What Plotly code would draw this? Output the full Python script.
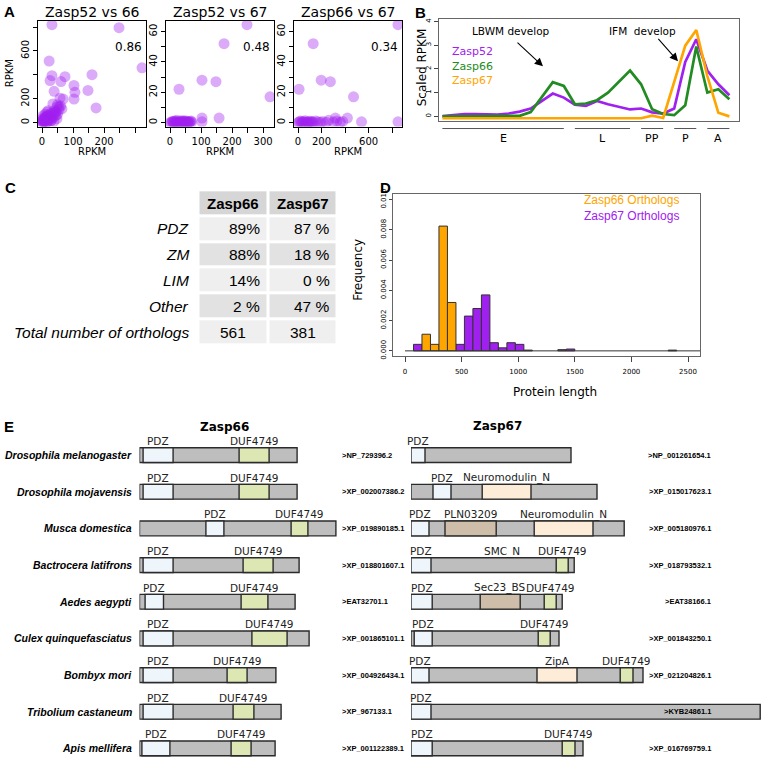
import plotly.graph_objects as go

W, H = 762, 761
def fx(p): return p / W
def fy(p): return 1 - p / H

DV = "DejaVu Sans"
LS = "Liberation Sans"
PURPLE = "#A020F0"
GREEN = "#228B22"
ORANGE = "#FFA500"

# ---------------- Panel A data (RPKM scatter) ----------------
a_titles = ["Zasp52 vs 66", "Zasp52 vs 67", "Zasp66 vs 67"]
a_corr = ["0.86", "0.48", "0.34"]
a1_x = [32, 248, 322, 23, 32, 26, 74, 61, 39, 103, 106, 103, 161, 148, 174, 58, 68, 35, 48, 64,
        16, 3, 26, 48, 0, 5, 10, 15, 20, 30, 40, 45, 50, 55, 12, 8, 2, 25, 35, 60, 30, 18, 6, 14, 22, 42,
        5, 10, 15, 20, 25, 30, 35, 40, 45, 50, 55, 20, 10, 0, 3, 7, 12, 18, 28, 38]
a1_y = [820, 795, 459, 516, 393, 352, 385, 344, 262, 311, 254, 197, 402, 270, 123, 205, 197, 156, 131, 115,
        90, 57, 49, 33, 10, 5, 20, 30, 60, 80, 100, 60, 150, 110, 40, 15, 2, 70, 40, 140, 20, 10, 25, 50, 35, 85,
        30, 45, 55, 35, 25, 50, 75, 60, 90, 70, 130, 100, 70, 30, 20, 8, 0, 5, 15, 10]
a2_x = [248, 174, 103, 148, 29, 158, 103, 103, 322, 0, 5, 10, 15, 20, 25, 30, 35, 40, 45, 50, 55, 60, 65, 70,
        12, 22, 32, 42, 52, 62, 8, 18, 28, 38, 48, 58, 68]
a2_y = [64.5, 52, 28, 27, 22, 3, 3, 0.5, 17, 0, 0.3, 0.5, 1, 0.2, 0.8, 0.4, 1.2, 0.3, 0.6, 0.2, 0.9, 0.4, 0.7, 0.3,
        0.1, 1.5, 0.1, 1.0, 0.5, 0.1, 0.9, 0.6, 0.2, 0.7, 1.3, 0.2, 1.1]
a3_x = [129, 197, 275, 9, 472, 318, 420, 540, 850, 850, 0, 10, 20, 30, 40, 50, 60, 70, 80, 90, 100, 110, 120, 130,
        150, 170, 190, 210, 240, 260, 300, 330, 360, 380]
a3_y = [52, 28, 27, 22, 17, 3, 3, 0.5, 64.5, 0.5, 0, 0.5, 1, 0.2, 0.8, 0.4, 1.2, 0.3, 0.6, 0.2, 0.9, 0.4, 0.7, 0.3,
        1.0, 0.5, 0.2, 0.8, 0.3, 1.5, 0.4, 1.1, 0.2, 0.8]
a1_xticks = [0, 50, 100, 150, 200, 250, 300]
a1_xlabels = ["0", "", "100", "", "200", "", ""]
a2_xticks = [0, 50, 100, 150, 200, 250, 300]
a2_xlabels = ["0", "", "100", "", "200", "", "300"]
a3_xticks = [0, 200, 400, 600, 800]
a3_xlabels = ["0", "200", "", "600", ""]
a1_yticks = [0, 200, 400, 600, 800]
a1_ylabels = ["0", "200", "", "600", ""]
a23_yticks = [0, 10, 20, 30, 40, 50, 60]
a23_ylabels = ["0", "", "20", "", "40", "", "60"]

# ---------------- Panel B data (developmental time course) ----------------
stages = list(range(1, 28))
zasp52 = [0.01, 0.05, 0.09, 0.09, 0.07, 0.07, 0.12, 0.2, 0.33, 0.65, 0.96, 0.79, 0.49, 0.44, 0.65, 0.51, 0.4,
          0.29, 0.33, 0.17, 0.12, 0.33, 2.29, 3.25, 1.93, 1.35, 0.89]
zasp66 = [0, 0, 0, 0, 0, 0, 0.01, 0.02, 0.18, 0.8, 1.44, 1.28, 0.51, 0.54, 0.68, 1.0, 1.46, 1.93, 1.35, 0.3,
          0.1, 0.05, 0.47, 2.94, 1.0, 1.14, 0.72]
zasp67 = [-0.08] * 19 + [0.03, -0.07, 1.45, 2.98, 3.64, 1.7, 0.15, 0.0]
stage_groups = ["E", "L", "PP", "P", "A"]
group_start = [1, 13, 19, 22, 25]
group_end = [12, 18, 21, 24, 27]

# ---------------- Panel C data (table) ----------------
table_header = ["Zasp66", "Zasp67"]
table_rows = ["PDZ", "ZM", "LIM", "Other", "Total number of orthologs"]
table_zasp66 = ["89%", "88%", "14%", "2 %", "561"]
table_zasp67 = ["87 %", "18 %", "0 %", "47 %", "381"]

# ---------------- Panel D data (protein length histogram) ----------------
bin_width = 75
z66_bin_left = [150, 225, 300, 375]
z66_density = [0.0011, 0.00043, 0.00825, 0.0032]
z67_bin_left = [75, 450, 525, 600, 675, 750, 825, 900, 975, 1050, 1350, 1425, 2325]
z67_density = [0.00043, 0.00043, 0.0023, 0.0028, 0.0037, 0.00054, 0.0002, 0.00054, 0.00043,
               0.00005, 0.00008, 0.00012, 0.00005]
length_max = 2625

# ---------------- Panel E data (domain architecture, aa) ----------------
species = ["Drosophila melanogaster", "Drosophila mojavensis", "Musca domestica", "Bactrocera latifrons",
           "Aedes aegypti", "Culex quinquefasciatus", "Bombyx mori", "Tribolium castaneum", "Apis mellifera"]
z66_acc = [">NP_729396.2", ">XP_002007386.2", ">XP_019890185.1", ">XP_018801607.1", ">EAT32701.1",
           ">XP_001865101.1", ">XP_004926434.1", ">XP_967133.1", ">XP_001122389.1"]
z67_acc = [">NP_001261654.1", ">XP_015017623.1", ">XP_005180976.1", ">XP_018793532.1", ">EAT38166.1",
           ">XP_001843250.1", ">XP_021204826.1", ">KYB24861.1", ">XP_016769759.1"]
z66_len = [394, 394, 491, 399, 389, 424, 341, 354, 339]
z66_pdz = [(9, 84), (9, 84), (166, 211), (9, 84), (14, 60), (9, 84), (9, 84), (9, 84), (6, 76)]
z66_duf = [(249, 324), (249, 324), (379, 421), (259, 334), (254, 321), (281, 369), (219, 269), (234, 286), (229, 279)]
z67_len = [400, 465, 533, 408, 378, 370, 580, 873, 430]
z67_pdz = [(0, 35), (55, 100), (0, 45), (0, 50), (0, 53), (8, 53), (0, 45), (0, 50), (0, 53)]
z67_duf = [None, None, None, (363, 393), (333, 363), (318, 348), (523, 555), None, (378, 410)]
z67_neuro = [None, (178, 300), (308, 455), None, None, None, None, None, None]
z67_zipa = [None, None, None, None, None, None, (315, 415), None, None]
z67_pln = [None, None, (85, 213), None, None, None, None, None, None]
z67_sec23 = [None, None, None, None, (173, 273), None, None, None, None]
z67_smc = [None, None, None, (190, 265), None, None, None, None, None]

# ---------------- styles ----------------
C_BACK = "#bebebe"
C_PDZ = "#eef6fc"
C_DUF = "#dde7b3"
C_PEACH = "#fdecd7"
C_TAN = "#cdbda9"
C_EDGE = "#2b2b2b"

fig = go.Figure()
annotations = []
shapes = []

def ann(**kw):
    kw.setdefault("xanchor", "center")
    kw.setdefault("yanchor", "middle")
    kw.setdefault("showarrow", False)
    annotations.append(kw)

def pad(vals, f=0.04):
    lo, hi = min(vals), max(vals)
    d = (hi - lo) * f
    return [lo - d, hi + d]

# ---------- Panel A ----------
a_sets = [(a1_x, a1_y), (a2_x, a2_y), (a3_x, a3_y)]
a_xdom = [(38, 146), (166, 274), (294, 402)]
a_xt = [(a1_xticks, a1_xlabels), (a2_xticks, a2_xlabels), (a3_xticks, a3_xlabels)]
a_yt = [(a1_yticks, a1_ylabels), (a23_yticks, a23_ylabels), (a23_yticks, a23_ylabels)]
for i, (xs, ys) in enumerate(a_sets):
    n = "" if i == 0 else str(i + 1)
    fig.add_trace(go.Scatter(x=xs, y=ys, mode="markers", xaxis="x" + n, yaxis="y" + n,
                             marker=dict(size=11, color="rgba(160,32,240,0.38)", line=dict(width=0)),
                             hoverinfo="skip"))
    fig.update_layout(**{
        "xaxis" + n: dict(domain=[fx(a_xdom[i][0]), fx(a_xdom[i][1])], range=pad(xs), anchor="y" + n,
                          tickvals=a_xt[i][0], ticktext=a_xt[i][1], ticks="outside", ticklen=5,
                          tickcolor="black", showline=True, linecolor="black", linewidth=1, mirror=True,
                          showgrid=False, zeroline=False, tickfont=dict(family=DV, size=10, color="black")),
        "yaxis" + n: dict(domain=[fy(123), fy(16)], range=pad(ys), anchor="x" + n,
                          tickvals=a_yt[i][0], ticktext=a_yt[i][1], ticks="outside", ticklen=4,
                          tickcolor="black", showline=True, linecolor="black", linewidth=1, mirror=True,
                          showgrid=False, zeroline=False, tickangle=-90,
                          tickfont=dict(family=DV, size=10, color="black")),
    })
    ann(text=a_titles[i], xref="x%s domain" % n, x=0.5, yref="paper", y=fy(7.5),
        font=dict(family=DV, size=14, color="black"))
    ann(text=a_corr[i], xref="x%s domain" % n, x=1, xanchor="right", xshift=-2, yref="paper", y=fy(42),
        font=dict(family=DV, size=12, color="black"))
    ann(text="RPKM", xref="x%s domain" % n, x=0.5, yref="paper", y=fy(148),
        font=dict(family=DV, size=10, color="black"))
ann(text="RPKM", xref="paper", x=fx(9), yref="paper", y=fy(69), textangle=-90,
    font=dict(family=DV, size=10, color="black"))

# ---------- Panel B ----------
for vals, col in [(zasp52, PURPLE), (zasp66, GREEN), (zasp67, ORANGE)]:
    fig.add_trace(go.Scatter(x=stages, y=vals, mode="lines", xaxis="x4", yaxis="y4",
                             line=dict(color=col, width=2.7), hoverinfo="skip"))
fig.update_layout(
    xaxis4=dict(domain=[fx(439), fx(739)], range=[0.69, 27.87], anchor="y4", showticklabels=False,
                ticks="", showline=True, linecolor="#666", linewidth=1, mirror=True, showgrid=False,
                zeroline=False),
    yaxis4=dict(domain=[fy(117), fy(14)], range=[-0.18, 4.11], anchor="x4", tickvals=[0, 1, 2, 3, 4],
                ticks="outside", ticklen=4, tickcolor="#444", showline=True, linecolor="#666", linewidth=1,
                mirror=True, showgrid=False, zeroline=False, tickangle=-90,
                tickfont=dict(family=DV, size=7, color="black")),
)
for g, s, e in zip(stage_groups, group_start, group_end):
    shapes.append(dict(type="line", xref="x4", yref="paper", x0=s, x1=e, y0=fy(125), y1=fy(125),
                       line=dict(color="#555", width=1)))
    ann(text=g, xref="x4", x=(s + e) / 2, yref="paper", y=fy(135), font=dict(family=DV, size=11, color="black"))
ann(text="Scaled RPKM", xref="paper", x=fx(422), yref="paper", y=fy(63), textangle=-90,
    font=dict(family=DV, size=12, color="black"))
for name, col, yy in [("Zasp52", PURPLE, 47), ("Zasp66", GREEN, 62), ("Zasp67", ORANGE, 76)]:
    ann(text=name, xref="paper", x=fx(450), xanchor="left", yref="paper", y=fy(yy),
        font=dict(family=DV, size=11, color=col))
ann(text="LBWM develop", xref="paper", x=fx(511), yref="paper", y=fy(26),
    font=dict(family=DV, size=10.5, color="black"))
ann(text="IFM\u00a0 develop", xref="paper", x=fx(642), yref="paper", y=fy(26),
    font=dict(family=DV, size=10.5, color="black"))
ann(text="", xref="paper", x=fx(543), yref="paper", y=fy(62), ax=-27, ay=-25,
    showarrow=True, arrowhead=2, arrowsize=1.5, arrowwidth=1.1, arrowcolor="black")
ann(text="", xref="paper", x=fx(678), yref="paper", y=fy(57), ax=-21, ay=-24,
    showarrow=True, arrowhead=2, arrowsize=1.5, arrowwidth=1.1, arrowcolor="black")

# ---------- Panel C (table drawn as a gapped heatmap grid) ----------
light, dark, hdr = "#efefef", "#e2e2e2", "#d6d6d6"
n_rows = len(table_rows)
tbl_shade = [[2, 2]] + [[k % 2, k % 2] for k in range(n_rows)]
fig.add_trace(go.Heatmap(z=tbl_shade, x=[0, 1], y=list(range(n_rows + 1)), xaxis="x8", yaxis="y8",
                         colorscale=[[0, light], [0.5, dark], [1, hdr]], zmin=0, zmax=2, showscale=False,
                         xgap=3, ygap=3, hoverinfo="skip"))
fig.update_layout(
    xaxis8=dict(domain=[fx(198.5), fx(337.5)], range=[-0.5, 1.5], anchor="y8", visible=False),
    yaxis8=dict(domain=[fy(344), fy(187.5)], range=[n_rows + 0.5, -0.5], anchor="x8", visible=False),
)
for c, h in enumerate(table_header):
    ann(text="<b>%s</b>" % h, xref="x8", x=c, yref="y8", y=0, font=dict(family=LS, size=15, color="black"))
for r, lab in enumerate(table_rows):
    ann(text="<i>%s</i>" % lab, xref="paper", x=fx(190.5), xanchor="right", yref="y8", y=r + 1,
        font=dict(family=LS, size=15.5, color="black"))
for c, col_vals in enumerate([table_zasp66, table_zasp67]):
    for r, v in enumerate(col_vals):
        if "%" in v:
            ann(text=v, xref="x8", x=c + 0.5, xshift=-6, xanchor="right", yref="y8", y=r + 1,
                font=dict(family=LS, size=15.5, color="black"))
        else:
            ann(text=v, xref="x8", x=c, yref="y8", y=r + 1, font=dict(family=LS, size=15.5, color="black"))

# ---------- Panel D (histogram) ----------
fig.add_trace(go.Scatter(x=[0, length_max], y=[0, 0], mode="lines", xaxis="x5", yaxis="y5",
                         line=dict(color="#333", width=1), hoverinfo="skip"))
fig.add_trace(go.Bar(x=[b + bin_width / 2 for b in z67_bin_left], y=z67_density, width=bin_width,
                     xaxis="x5", yaxis="y5", marker=dict(color=PURPLE, line=dict(color="#333", width=1)),
                     hoverinfo="skip"))
fig.add_trace(go.Bar(x=[b + bin_width / 2 for b in z66_bin_left], y=z66_density, width=bin_width,
                     xaxis="x5", yaxis="y5", marker=dict(color=ORANGE, line=dict(color="#333", width=1)),
                     hoverinfo="skip"))
fig.update_layout(
    xaxis5=dict(domain=[fx(393), fx(700)], range=[-106, 2606], anchor="y5", tickvals=[0, 500, 1000, 1500, 2000, 2500],
                ticks="outside", ticklen=5, tickcolor="#444", showline=True, linecolor="#666", linewidth=1,
                mirror=True, showgrid=False, zeroline=False, ticklabelstandoff=4,
                tickfont=dict(family=DV, size=7, color="black")),
    yaxis5=dict(domain=[fy(355), fy(191)], range=[-0.000327, 0.01039], anchor="x5",
                tickvals=[0, 0.002, 0.004, 0.006, 0.008, 0.010], tickformat=".3f", ticks="outside", ticklen=3,
                tickcolor="#444", showline=True, linecolor="#666", linewidth=1, mirror=True, showgrid=False,
                zeroline=False, tickangle=-90, tickfont=dict(family=DV, size=7, color="black")),
)
ann(text="Frequency", xref="paper", x=fx(358), yref="paper", y=fy(268), textangle=-90,
    font=dict(family=DV, size=12, color="black"))
ann(text="Protein length", xref="paper", x=fx(555), yref="paper", y=fy(392),
    font=dict(family=DV, size=12, color="black"))
ann(text="<span style='color:%s'>Zasp66 Orthologs</span><br>"
         "<span style='color:%s'>Zasp67 Orthologs</span>" % (ORANGE, PURPLE),
    xref="paper", x=fx(681), xanchor="right", align="right", yref="paper", y=fy(205.5),
    font=dict(family=LS, size=12, color=ORANGE))

# ---------- Panel E (domain diagrams) ----------
rows = list(range(len(species)))
BW = 0.404
def hbar(spans, color, xa, ya):
    base = [s[0] if s else None for s in spans]
    length = [(s[1] - s[0]) if s else None for s in spans]
    fig.add_trace(go.Bar(y=rows, x=length, base=base, orientation="h", width=BW, xaxis=xa, yaxis=ya,
                         marker=dict(color=color, line=dict(color=C_EDGE, width=1.4)),
                         hoverinfo="skip"))

def labels(spans, name, xa, ya):
    for r, s in zip(rows, spans):
        if s:
            ann(text=name, xref=xa, x=(s[0] + s[1]) / 2, yref=ya, y=r, yshift=14,
                font=dict(family=DV, size=10.5, color="#222"))

hbar([(0, L) for L in z66_len], C_BACK, "x6", "y6")
hbar(z66_pdz, C_PDZ, "x6", "y6")
hbar(z66_duf, C_DUF, "x6", "y6")
labels(z66_pdz, "PDZ", "x6", "y6")
labels(z66_duf, "DUF4749", "x6", "y6")

hbar([(0, L) for L in z67_len], C_BACK, "x7", "y7")
hbar(z67_pdz, C_PDZ, "x7", "y7")
hbar(z67_duf, C_DUF, "x7", "y7")
hbar(z67_neuro, C_PEACH, "x7", "y7")
hbar(z67_zipa, C_PEACH, "x7", "y7")
hbar(z67_pln, C_TAN, "x7", "y7")
hbar(z67_sec23, C_TAN, "x7", "y7")
for spans, name in [(z67_pdz, "PDZ"), (z67_duf, "DUF4749"), (z67_neuro, "Neuromodulin_N"), (z67_zipa, "ZipA"),
                    (z67_pln, "PLN03209"), (z67_sec23, "Sec23_BS"), (z67_smc, "SMC_N")]:
    labels(spans, name, "x7", "y7")

ey_range = [8.234, -0.687]
fig.update_layout(
    xaxis6=dict(domain=[fx(139.5), fx(400)], range=[0, (400 - 139.5) * 2.5], anchor="y6", visible=False),
    yaxis6=dict(domain=[0, fy(430)], range=ey_range, anchor="x6", visible=False),
    xaxis7=dict(domain=[fx(411), 1], range=[0, (762 - 411) * 2.5], anchor="y7", visible=False),
    yaxis7=dict(domain=[0, fy(430)], range=ey_range, anchor="x7", visible=False),
)
for r, sp in zip(rows, species):
    ann(text="<b><i>%s</i></b>" % sp, xref="paper", x=fx(134), xanchor="right", yref="y6", y=r,
        font=dict(family=LS, size=10.5, color="black"))
for r, acc in zip(rows, z66_acc):
    ann(text="<b>%s</b>" % acc, xref="paper", x=fx(339.5), xanchor="left", yref="y6", y=r,
        font=dict(family=LS, size=7.5, color="black"))
for r, acc in zip(rows, z67_acc):
    ann(text="<b>%s</b>" % acc, xref="paper", x=fx(713), xanchor="right", yref="y7", y=r,
        font=dict(family=LS, size=7.5, color="black"))
ann(text="<b>Zasp66</b>", xref="paper", x=fx(225), yref="paper", y=fy(427),
    font=dict(family=DV, size=12, color="black"))
ann(text="<b>Zasp67</b>", xref="paper", x=fx(497), yref="paper", y=fy(426),
    font=dict(family=DV, size=12, color="black"))

# ---------- panel letters ----------
for t, x, y in [("A", 9, 7), ("B", 420.5, 7.5), ("C", 10, 185), ("D", 385, 185), ("E", 9, 427)]:
    ann(text="<b>%s</b>" % t, xref="paper", x=fx(x), yref="paper", y=fy(y),
        font=dict(family=LS, size=15, color="black"))

fig.update_layout(width=W, height=H, margin=dict(l=0, r=0, t=0, b=0), paper_bgcolor="white",
                  plot_bgcolor="white", showlegend=False, barmode="overlay",
                  annotations=annotations, shapes=shapes)
fig.write_html("out.html", config={"displayModeBar": False},
               post_script="document.body.style.margin='0px';document.body.style.overflow='hidden';")
